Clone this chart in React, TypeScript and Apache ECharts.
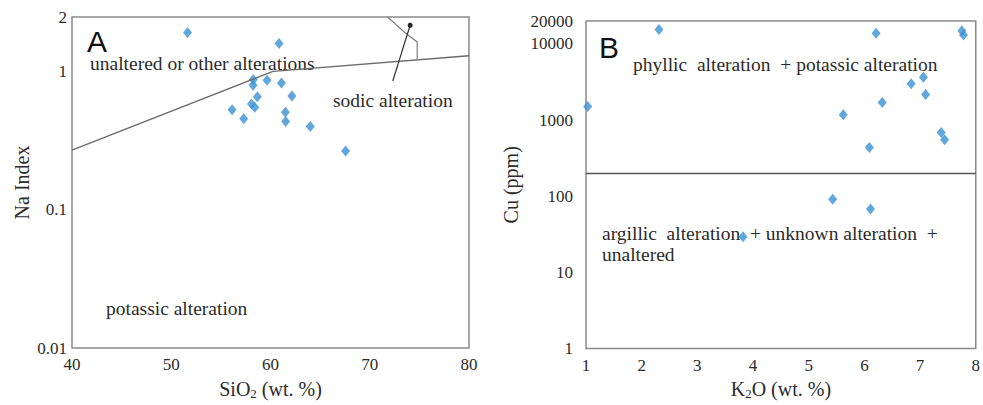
import React, { useEffect, useRef } from "react";
import * as echarts from "echarts";

// Panel A: SiO2 (wt.%) vs Na index
const sio2 = [51.64, 60.86, 58.27, 58.24, 59.65, 61.1, 62.16, 58.68, 58.08, 58.41, 56.13, 57.3, 61.5, 61.53, 64.01, 67.57];
const naIndex = [1.93, 1.61, 0.88, 0.8, 0.87, 0.83, 0.67, 0.66, 0.585, 0.554, 0.532, 0.457, 0.51, 0.437, 0.403, 0.267];
// Field boundaries in panel A
const boundaryX = [40, 60.25, 80];
const boundaryY = [0.271, 1.01, 1.31];
const sodicX = [71.8, 73.57, 74.78, 74.78];
const sodicY = [2.5, 1.92, 1.65, 1.24];
const arrowX = [72.32, 74.07];
const arrowY = [0.86, 2.18];

// Panel B: K2O (wt.%) vs Cu (ppm)
const k2o = [2.31, 6.21, 7.75, 7.78, 1.03, 5.62, 6.32, 6.84, 7.06, 7.1, 7.38, 7.44, 6.09, 5.43, 6.11, 3.82];
const cu = [15520, 13780, 14890, 13110, 1510, 1178, 1698, 3000, 3656, 2170, 687, 553, 437, 91.6, 68.2, 29.5];
const cuThreshold = 200;

const serif = "'Liberation Serif', 'Times New Roman', serif";
const sans = "'Liberation Sans', Arial, sans-serif";
const textColor = "#2b2b2b";
const frameColor = "#8a8a8a";
const pointColor = "#3a91d2";

const zip = (a: number[], b: number[]) => a.map((v, i) => [v, b[i]]);

export default function App() {
  const ref = useRef<HTMLDivElement>(null);
  useEffect(() => {
    if (!ref.current) return;
    const chart = echarts.init(ref.current, undefined, { renderer: "svg" });
    const axisLabel = { color: textColor, fontFamily: serif, fontSize: 17 };
    const nameRich = {
      a: { fontFamily: serif, fontSize: 20, color: textColor },
      s: { fontFamily: serif, fontSize: 13, color: textColor, verticalAlign: "bottom", padding: [10, 0, 0, 0] },
    };
    const annot = (text: string, x: number, y: number) => ({
      type: "text", x, y,
      style: { text, font: `19.5px ${serif}`, fill: textColor, verticalAlign: "middle", lineHeight: 16 },
    });
    const option: any = {
      animation: false,
      backgroundColor: "#ffffff",
      grid: [
        { left: 72, top: 17, width: 397, height: 335, show: true, borderColor: frameColor, borderWidth: 1.5, backgroundColor: "transparent" },
        { left: 586, top: 21, width: 396, height: 336, show: true, borderColor: frameColor, borderWidth: 1.5, backgroundColor: "transparent" },
      ],
      xAxis: [
        {
          gridIndex: 0, type: "value", min: 40, max: 80, interval: 10,
          axisLine: { show: false }, axisTick: { show: false }, splitLine: { show: false },
          axisLabel: { ...axisLabel, margin: 8 },
          name: "{a|SiO}{s|2}{a| (wt. %)}", nameLocation: "middle", nameGap: 29,
          nameTextStyle: { rich: nameRich },
        },
        {
          gridIndex: 1, type: "value", min: 1, max: 8, interval: 1,
          axisLine: { show: false }, axisTick: { show: false }, splitLine: { show: false },
          axisLabel: { ...axisLabel, margin: 8 },
          name: "{a|K}{s|2}{a|O (wt. %)}", nameLocation: "middle", nameGap: 25,
          nameTextStyle: { rich: nameRich },
        },
      ],
      yAxis: [
        {
          gridIndex: 0, type: "log", logBase: 10, min: 0.01, max: 2.5,
          axisLine: { show: false }, axisTick: { show: false }, splitLine: { show: false },
          axisLabel: { ...axisLabel, margin: 5, formatter: (v: number) => (v > 2 ? "2" : String(v)) },
          name: "Na Index", nameLocation: "middle", nameGap: 40,
          nameTextStyle: { fontFamily: serif, fontSize: 20, color: textColor },
        },
        {
          gridIndex: 1, type: "log", logBase: 10, min: 1, max: 20000,
          axisLine: { show: false }, axisTick: { show: false }, splitLine: { show: false },
          axisLabel: { ...axisLabel, margin: 13, formatter: (v: number) => String(Math.round(v)) },
          name: "Cu (ppm)", nameLocation: "middle", nameGap: 65,
          nameTextStyle: { fontFamily: serif, fontSize: 20, color: textColor },
        },
      ],
      series: [
        {
          type: "line", xAxisIndex: 0, yAxisIndex: 0, data: zip(boundaryX, boundaryY),
          symbol: "none", lineStyle: { color: "#6a6a6a", width: 1.3 }, silent: true,
        },
        {
          type: "line", xAxisIndex: 0, yAxisIndex: 0, data: zip(sodicX, sodicY),
          symbol: "none", lineStyle: { color: "#7a7a7a", width: 1.2 }, silent: true,
        },
        {
          type: "line", xAxisIndex: 0, yAxisIndex: 0,
          data: [
            { value: [arrowX[0], arrowY[0]], symbol: "none" },
            { value: [arrowX[1], arrowY[1]], symbol: "circle", symbolSize: 5 },
          ],
          showSymbol: true,
          itemStyle: { color: "#222" },
          lineStyle: { color: "#333", width: 1.2 }, silent: true,
        },
        {
          type: "scatter", xAxisIndex: 0, yAxisIndex: 0, data: zip(sio2, naIndex),
          symbol: "diamond", symbolSize: [9, 11], itemStyle: { color: pointColor },
        },
        {
          type: "scatter", xAxisIndex: 1, yAxisIndex: 1, data: zip(k2o, cu),
          symbol: "diamond", symbolSize: [9, 11], itemStyle: { color: pointColor },
          markLine: {
            silent: true, symbol: "none", label: { show: false },
            lineStyle: { color: "#555", width: 1.3, type: "solid" },
            data: [{ yAxis: cuThreshold }],
          },
        },
      ],
      graphic: [
        { type: "text", x: 87, y: 41, style: { text: "A", font: `30px ${sans}`, fill: "#111", verticalAlign: "middle", lineHeight: 18 } },
        annot("unaltered or other alterations", 90, 63),
        annot("sodic alteration", 333, 100),
        annot("potassic alteration", 106, 308),
        { type: "text", x: 599, y: 47, style: { text: "B", font: `30px ${sans}`, fill: "#111", verticalAlign: "middle", lineHeight: 24 } },
        annot("phyllic  alteration  + potassic alteration", 633, 64),
        annot("argillic  alteration  + unknown alteration  +", 602, 233),
        annot("unaltered", 602, 254),
      ],
    };
    chart.setOption(option);
    return () => chart.dispose();
  }, []);
  return <div ref={ref} style={{ position: "absolute", left: 0, top: 0, width: 983, height: 405 }} />;
}
